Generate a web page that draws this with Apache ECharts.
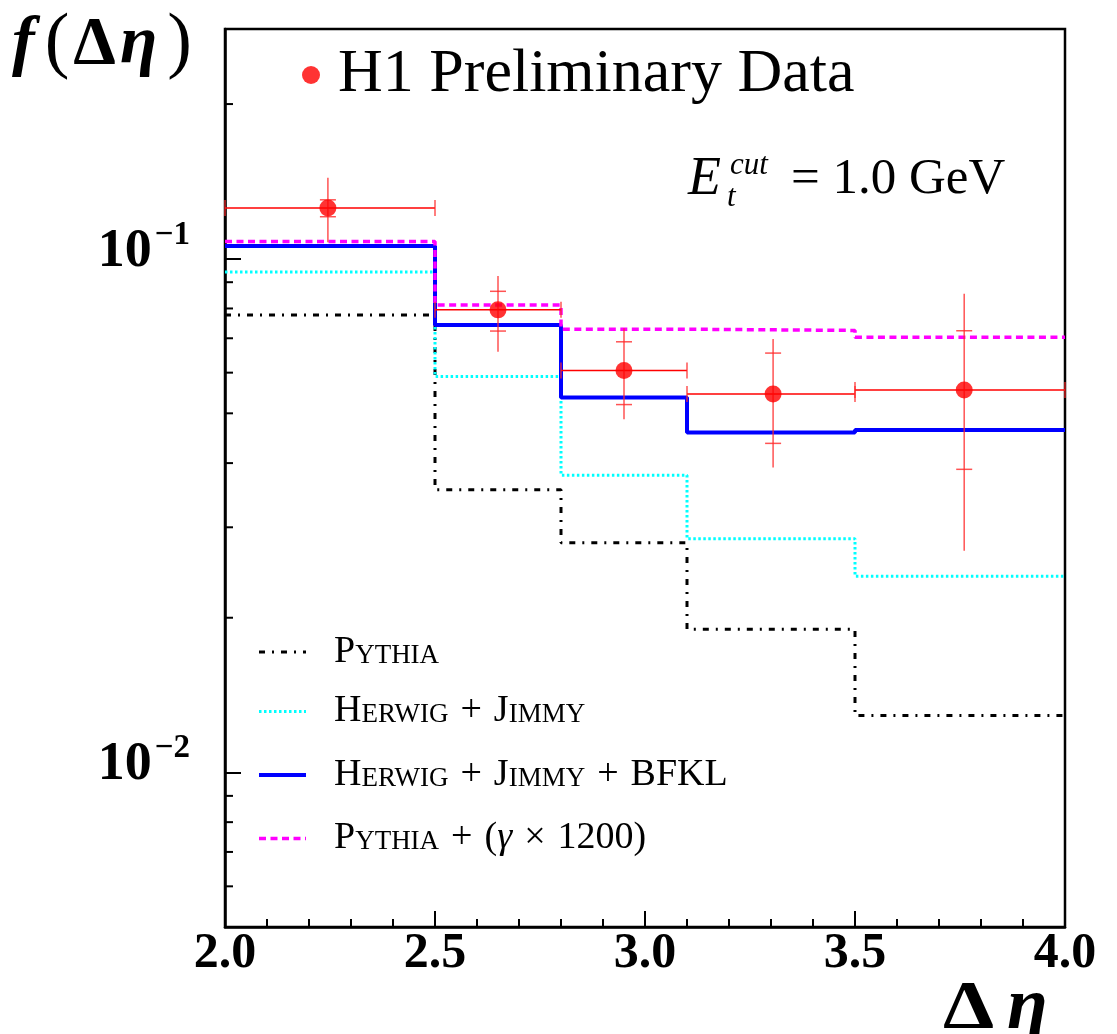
<!DOCTYPE html>
<html>
<head>
<meta charset="utf-8">
<script src="https://cdn.jsdelivr.net/npm/echarts@6/dist/echarts.min.js"></script>
<style>
  html, body { margin: 0; padding: 0; background: #fff; }
  #chart { width: 1117px; height: 1034px; }
</style>
</head>
<body>
<div id="chart"></div>
<script>
// Δη bin edges and MC predictions (one value per bin)
const binEdges = [2.0, 2.5, 2.8, 3.1, 3.5, 4.0];
const pythia          = [0.0777, 0.0355, 0.0280, 0.0190, 0.0129];
const herwigJimmy     = [0.0942, 0.0590, 0.0379, 0.0285, 0.0241];
const herwigJimmyBfkl = [0.1059, 0.0743, 0.0537, 0.0459, 0.0464];
const pythiaGamma     = [0.1080, 0.0813, 0.0729, 0.0725, 0.0703];

// H1 measurement: bin position, value, statistical and total error bounds
const dataX   = [2.245, 2.65, 2.95, 3.305, 3.76];
const dataY   = [0.1255, 0.0795, 0.0606, 0.0545, 0.0555];
const statLo  = [0.1207, 0.0723, 0.0520, 0.0437, 0.0389];
const statHi  = [0.1302, 0.0864, 0.0689, 0.0655, 0.0724];
const totLo   = [0.1076, 0.0659, 0.0487, 0.0392, 0.0270];
const totHi   = [0.1437, 0.0925, 0.0732, 0.0698, 0.0855];

// axis ranges and log-axis minor tick values
const xRange = [2.0, 4.0];
const yRange = [0.005, 0.28];
const yMinorTicks = [0.006, 0.007, 0.008, 0.009, 0.02, 0.03, 0.04, 0.05, 0.06, 0.07, 0.08, 0.09, 0.2];

const SERIF = '"Liberation Serif", "DejaVu Serif", serif';

function stepData(vals) {
  return binEdges.map((x, i) => [x, vals[Math.min(i, vals.length - 1)]]);
}

const errData = dataX.map((x, i) => [
  x, dataY[i], binEdges[i], binEdges[i + 1], statLo[i], statHi[i], totLo[i], totHi[i]
]);

// small-caps rendering of generator names via rich text
function smallCaps(name) {
  return name.split(' ').map(w => {
    if (/^[A-Z][a-z]+$/.test(w)) {
      return '{c|' + w[0] + '}{s|' + w.slice(1).toUpperCase() + '}';
    }
    return w.split('').map(ch => ch === 'γ' ? '{g|γ}' : '{c|' + ch + '}').join('');
  }).join('{w| }');
}

const chart = echarts.init(document.getElementById('chart'), null, { renderer: 'canvas' });

const errColor = 'rgba(255,40,40,0.8)';

const option = {
  backgroundColor: '#ffffff',
  animation: false,
  grid: {
    left: 225, top: 29, width: 840, height: 898,
    show: true, borderColor: '#000', borderWidth: 2.5, backgroundColor: 'transparent'
  },
  xAxis: {
    type: 'value', min: xRange[0], max: xRange[1], interval: 0.5,
    axisLine: { lineStyle: { color: '#000', width: 2.5 } },
    axisTick: { inside: true, length: 16, lineStyle: { color: '#000', width: 2 } },
    minorTick: { show: true, splitNumber: 5, length: 8, lineStyle: { color: '#000', width: 2 } },
    splitLine: { show: false },
    axisLabel: {
      margin: 2, color: '#000', fontFamily: SERIF, fontWeight: 'bold', fontSize: 50, lineHeight: 50,
      formatter: v => v.toFixed(1)
    }
  },
  yAxis: {
    type: 'log', logBase: 10, min: yRange[0], max: yRange[1],
    axisLine: { show: true, lineStyle: { color: '#000', width: 2.5 } },
    axisTick: { inside: true, length: 16, lineStyle: { color: '#000', width: 2 } },
    splitLine: { show: false },
    axisLabel: {
      margin: 35, showMinLabel: false, showMaxLabel: false,
      padding: [0, 0, 20, 0],
      formatter: v => '{b|10}{s|−' + (-Math.round(Math.log10(v))) + '}',
      rich: {
        b: { fontFamily: SERIF, fontWeight: 'bold', fontSize: 54, lineHeight: 60, verticalAlign: 'bottom', color: '#000' },
        s: { fontFamily: SERIF, fontWeight: 'bold', fontSize: 33, lineHeight: 44, verticalAlign: 'top', color: '#000', padding: [0, 0, 0, 3] }
      }
    }
  },
  legend: [
    {
      data: [{ name: 'H1 Preliminary Data', icon: 'circle' }],
      left: 302, top: 44, padding: 0,
      itemWidth: 18, itemHeight: 18,
      textStyle: { fontFamily: SERIF, fontSize: 62, lineHeight: 62, color: '#000', padding: [0, 0, 0, 13] }
    },
    {
      data: ['Pythia', 'Herwig + Jimmy', 'Herwig + Jimmy + BFKL', 'Pythia + (γ × 1200)'],
      orient: 'vertical', left: 257, top: 632, padding: 0,
      itemWidth: 47, itemHeight: 14, itemGap: 15.5,
      itemStyle: { opacity: 0, borderWidth: 0 },
      lineStyle: { width: 'inherit' },
      formatter: smallCaps,
      textStyle: {
        color: '#000', padding: [0, 0, 0, 23], lineHeight: 40,
        rich: {
          c: { fontFamily: SERIF, fontSize: 38, lineHeight: 40, color: '#000' },
          w: { fontFamily: SERIF, fontSize: 48, lineHeight: 40, color: '#000' },
          s: { fontFamily: SERIF, fontSize: 27, color: '#000', padding: [7, 0, 0, 0] },
          g: { fontFamily: SERIF, fontSize: 38, fontStyle: 'italic', lineHeight: 40, color: '#000' }
        }
      }
    }
  ],
  graphic: [
    {
      type: 'text', left: 12, top: 8, z: 100,
      style: {
        text: '{i|f}{n|(}{b|Δ}{i|η}{n|)}',
        rich: {
          i: { fontFamily: SERIF, fontWeight: 'bold', fontStyle: 'italic', fontSize: 68, fill: '#000', padding: [0, 6, 0, 0] },
          n: { fontFamily: SERIF, fontSize: 74, fill: '#000', padding: [0, 4, 0, 4] },
          b: { fontFamily: SERIF, fontWeight: 'bold', fontSize: 68, fill: '#000', padding: [0, 4, 0, 0] }
        }
      }
    },
    {
      // x-axis title Δη
      type: 'group', left: 943, top: 972, z: 100,
      children: [
        { type: 'text', x: 0, y: 0, scaleX: 1.2, style: { text: 'Δ', font: 'bold 68px ' + SERIF, fill: '#000', verticalAlign: 'middle' } },
        { type: 'text', x: 64, y: 0, style: { text: 'η', font: 'italic bold 74px ' + SERIF, fill: '#000', verticalAlign: 'middle' } }
      ]
    },
    {
      type: 'group', left: 688, top: 150, z: 100,
      children: [
        { type: 'text', x: 0, y: 35, style: { text: 'E', font: 'italic 54px ' + SERIF, fill: '#000', verticalAlign: 'middle' } },
        { type: 'text', x: 42, y: 21, style: { text: 'cut', font: 'italic 31px ' + SERIF, fill: '#000', verticalAlign: 'middle' } },
        { type: 'text', x: 39, y: 53, style: { text: 't', font: 'italic 31px ' + SERIF, fill: '#000', verticalAlign: 'middle' } },
        { type: 'text', x: 103, y: 35, style: { text: '= 1.0 GeV', font: '51px ' + SERIF, fill: '#000', verticalAlign: 'middle' } }
      ]
    }
  ],
  series: [
    {
      name: 'Pythia', type: 'line', step: 'end', symbol: 'none', z: 2,
      data: stepData(pythia),
      lineStyle: { color: '#000', width: 3, type: [6, 7, 2, 7] },
      itemStyle: { color: '#000' }
    },
    {
      name: 'Herwig + Jimmy', type: 'line', step: 'end', symbol: 'none', z: 2,
      data: stepData(herwigJimmy),
      lineStyle: { color: '#00ffff', width: 3, type: [2.5, 2.5] },
      itemStyle: { color: '#00ffff' }
    },
    {
      name: 'Herwig + Jimmy + BFKL', type: 'line', step: 'end', symbol: 'none', z: 3,
      data: stepData(herwigJimmyBfkl),
      lineStyle: { color: '#0000ff', width: 4 },
      itemStyle: { color: '#0000ff' }
    },
    {
      name: 'Pythia + (γ × 1200)', type: 'line', step: 'end', symbol: 'none', z: 3,
      data: stepData(pythiaGamma),
      lineStyle: { color: '#ff00ff', width: 3.5, type: [7, 4.5] },
      itemStyle: { color: '#ff00ff' }
    },
    {
      // error bars: bin width horizontally, total and statistical errors vertically
      name: 'errors', type: 'custom', z: 5, silent: true,
      data: errData,
      encode: { x: 0, y: 1 },
      renderItem: function (params, api) {
        const x = api.value(0), y = api.value(1);
        const pl = api.coord([api.value(2), y]);
        const ph = api.coord([api.value(3), y]);
        const c = api.coord([x, y]);
        const ySl = api.coord([x, api.value(4)])[1];
        const ySh = api.coord([x, api.value(5)])[1];
        const yTl = api.coord([x, api.value(6)])[1];
        const yTh = api.coord([x, api.value(7)])[1];
        const cap = 8;
        const hStyle = { stroke: '#ff0000', lineWidth: 1.5 };
        const vStyle = { stroke: errColor, lineWidth: 1.5 };
        return {
          type: 'group',
          children: [
            { type: 'line', shape: { x1: pl[0], y1: pl[1], x2: ph[0], y2: ph[1] }, style: hStyle },
            { type: 'line', shape: { x1: pl[0], y1: pl[1] - cap, x2: pl[0], y2: pl[1] + cap }, style: vStyle },
            { type: 'line', shape: { x1: ph[0], y1: ph[1] - cap, x2: ph[0], y2: ph[1] + cap }, style: vStyle },
            { type: 'line', shape: { x1: c[0], y1: yTh, x2: c[0], y2: yTl }, style: vStyle },
            { type: 'line', shape: { x1: c[0] - cap, y1: ySh, x2: c[0] + cap, y2: ySh }, style: vStyle },
            { type: 'line', shape: { x1: c[0] - cap, y1: ySl, x2: c[0] + cap, y2: ySl }, style: vStyle }
          ]
        };
      }
    },
    {
      name: 'H1 Preliminary Data', type: 'scatter', z: 6,
      symbol: 'circle', symbolSize: 17,
      itemStyle: { color: '#ff0000' },
      data: dataX.map((x, i) => [x, dataY[i]])
    },
    {
      // minor ticks of the logarithmic axis
      name: 'yMinorTicks', type: 'custom', z: 7, silent: true,
      data: yMinorTicks.map(v => [v]),
      encode: { y: 0 },
      renderItem: function (params, api) {
        const p = api.coord([xRange[0], api.value(0)]);
        return {
          type: 'line',
          shape: { x1: p[0], y1: p[1], x2: p[0] + 8, y2: p[1] },
          style: { stroke: '#000', lineWidth: 2 }
        };
      }
    }
  ]
};

chart.setOption(option);
</script>
</body>
</html>
